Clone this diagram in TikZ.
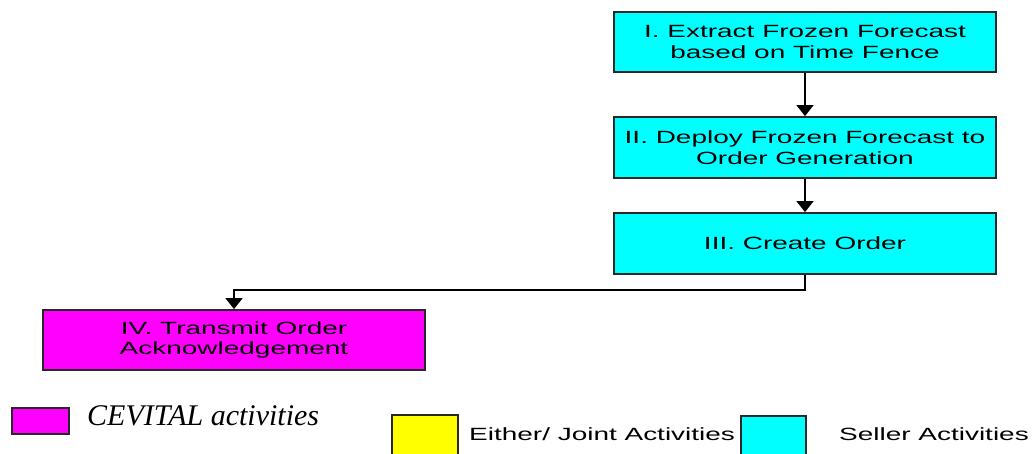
\documentclass[tikz,border=0pt]{standalone}
\usepackage{fontspec}
\usetikzlibrary{arrows.meta}
% wide sans face used for every box and legend caption
\newfontfamily\widesans[FakeStretch=1.58]{Liberation Sans}
\newfontfamily\legendserif{Liberation Serif}
\definecolor{sellerfill}{RGB}{0,255,255}
\definecolor{buyerfill}{RGB}{255,0,255}
\definecolor{jointfill}{RGB}{255,255,0}
\definecolor{edge}{RGB}{40,40,40}
\begin{document}
\begin{tikzpicture}[x=1pt,y=-1pt,
  activity/.style={draw=edge, line width=1.8pt, minimum width=382pt,
    minimum height=60pt, inner sep=0pt, align=center, text=black,
    font=\widesans\fontsize{17.7}{20.8}\selectfont},
  seller/.style={activity, fill=sellerfill},
  buyer/.style={activity, fill=buyerfill},
  flow/.style={line width=1.5pt, draw=black, -{Triangle[width=17pt,length=11pt]}},
  swatch/.style={draw=edge, line width=1.8pt, inner sep=0pt},
  legendsans/.style={anchor=base west, inner sep=0pt, text=black,
    font=\widesans\fontsize{17.7}{20.8}\selectfont}]
\useasboundingbox (0,0) rectangle (1034,453);
\clip (0,0) rectangle (1034,453);

% process steps
\node[seller] (extract) at (805,42) {I. Extract Frozen Forecast\\based on Time Fence};
\node[seller, minimum height=61pt] (deploy) at (805,147.5) {II. Deploy Frozen Forecast to\\Order Generation};
\node[seller, minimum height=61pt] (create) at (805,243.5) {III. Create Order};
\node[buyer] (transmit) at (234,340) {IV. Transmit Order\\Acknowledgement};

% connectors
\coordinate (bend) at (805,290);
\draw[flow] (extract) -- (deploy);
\draw[flow] (deploy) -- (create);
\draw[flow] (create.south) -- (bend) -| (transmit.north);

% legend
\node[swatch, fill=buyerfill, minimum width=57pt, minimum height=26.5pt] (keybuyer) at (40.3,421) {};
\node[anchor=base west, inner sep=0pt, text=black,
  font=\legendserif\itshape\fontsize{30}{34}\selectfont] (keybuyertext) at (87,425) {CEVITAL activities};
\node[swatch, fill=jointfill, minimum width=66pt, minimum height=60pt] (keyjoint) at (424.7,445) {};
\node[legendsans] (keyjointtext) at (469,440.7) {Either/ Joint Activities};
\node[swatch, fill=sellerfill, minimum width=65pt, minimum height=60pt] (keyseller) at (773.4,445.7) {};
\node[legendsans] (keysellertext) at (839,440.7) {Seller Activities};
\end{tikzpicture}
\end{document}
